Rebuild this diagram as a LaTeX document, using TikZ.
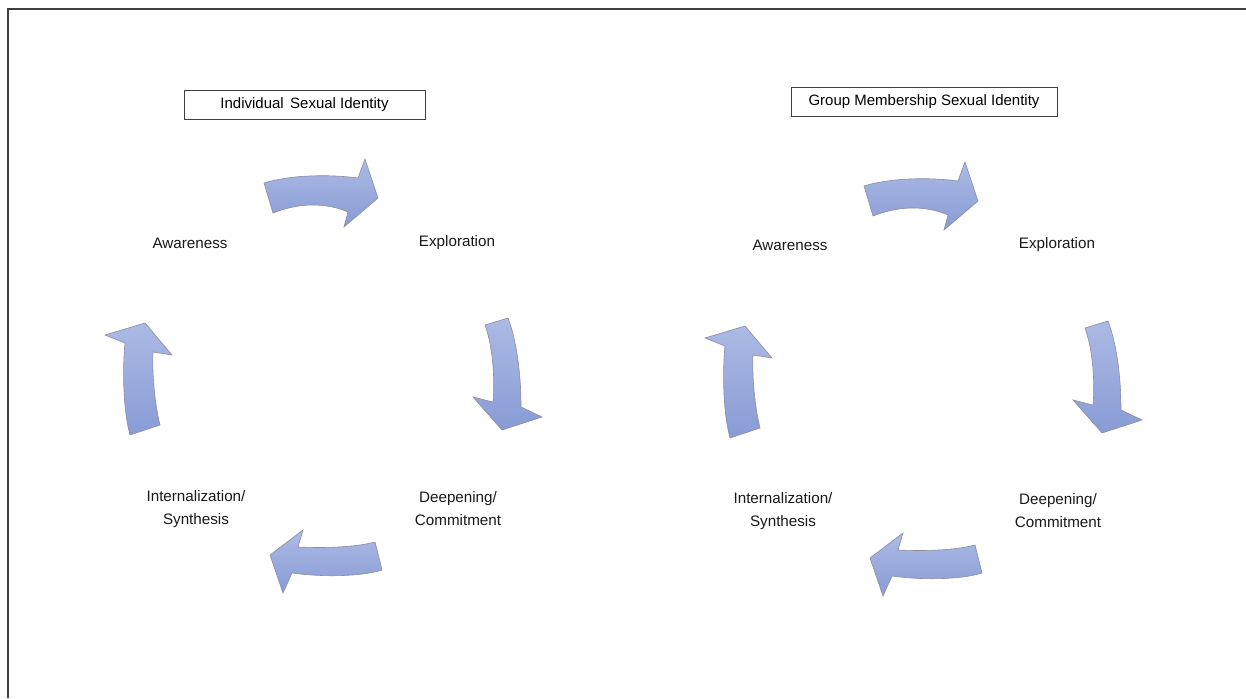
\documentclass[tikz,border=0pt]{standalone}
\usepackage{fontspec}
\setmainfont{Liberation Sans}
\begin{document}
\begin{tikzpicture}[x=1pt,y=-1pt,
  lbl/.style={font=\fontsize{15.2}{23}\selectfont, align=center, inner sep=0pt, text=black!90},
  titlebox/.style={draw=black!75, line width=0.9pt, font=\fontsize{15}{18}\selectfont, minimum height=29pt, inner xsep=0pt},
  blockarrow/.style={draw=blue!20!black!45, line width=0.6pt, top color=arrowtop, bottom color=arrowbot},
  frameline/.style={draw=black!75, line width=2pt}
]
\definecolor{arrowtop}{RGB}{172,186,228}
\definecolor{arrowbot}{RGB}{136,155,213}
\useasboundingbox (0,0) rectangle (1246,698);
\coordinate (fTR) at (1246,9.5);
\coordinate (fTL) at (8,9.5);
\coordinate (fBL) at (8,698);
\draw[frameline] (fTR) -- (fTL) -- (fBL);

% title boxes
\node[titlebox, minimum width=241pt] (t1) at (304.5,104.5) {Individual\hspace{0.15em} Sexual Identity};
\node[titlebox, minimum width=266pt] (t2) at (924,101.5) {Group Membership Sexual Identity};

% arrows of the two cycles
\foreach \dx/\dy in {0/0, 600/3}{
\begin{scope}[shift={(\dx,\dy)}]
% top arrow
\path[blockarrow] (264,183) .. controls (290,175) and (328,174) .. (358,178)
  -- (365,159) -- (378,198) -- (344,227) -- (348,212)
  .. controls (325,202) and (298,203) .. (273,213) -- cycle;
% right down arrow
\path[blockarrow] (485,325) -- (508,318) .. controls (517,342) and (521,375) .. (521,407)
  -- (542,417) -- (502,430) -- (473,397) -- (493,402)
  .. controls (495,380) and (493,347) .. (485,325) -- cycle;
% bottom left arrow
\path[blockarrow] (375,542) -- (382,570) .. controls (360,577) and (320,577) .. (292,573)
  -- (283,593) -- (270,555) -- (303,530) -- (298,547)
  .. controls (320,548) and (352,548) .. (375,542) -- cycle;
% left up arrow
\path[blockarrow] (130,435) -- (160,425) .. controls (155,405) and (152,375) .. (153,352)
  -- (172,355) -- (145,323) -- (105,335) -- (125,343)
  .. controls (123,362) and (122,405) .. (130,435) -- cycle;
\end{scope}
}

% labels left cycle
\node[lbl] (aw1) at (190,243) {Awareness};
\node[lbl] (ex1) at (457,243) {Exploration};
\node[lbl] (de1) at (458,509) {Deepening/\\Commitment};
\node[lbl] (in1) at (196,509) {Internalization/\\Synthesis};
% labels right cycle
\node[lbl] (aw2) at (790,245) {Awareness};
\node[lbl] (ex2) at (1057,245) {Exploration};
\node[lbl] (de2) at (1058,511) {Deepening/\\Commitment};
\node[lbl] (in2) at (783,511) {Internalization/\\Synthesis};
\end{tikzpicture}
\end{document}
